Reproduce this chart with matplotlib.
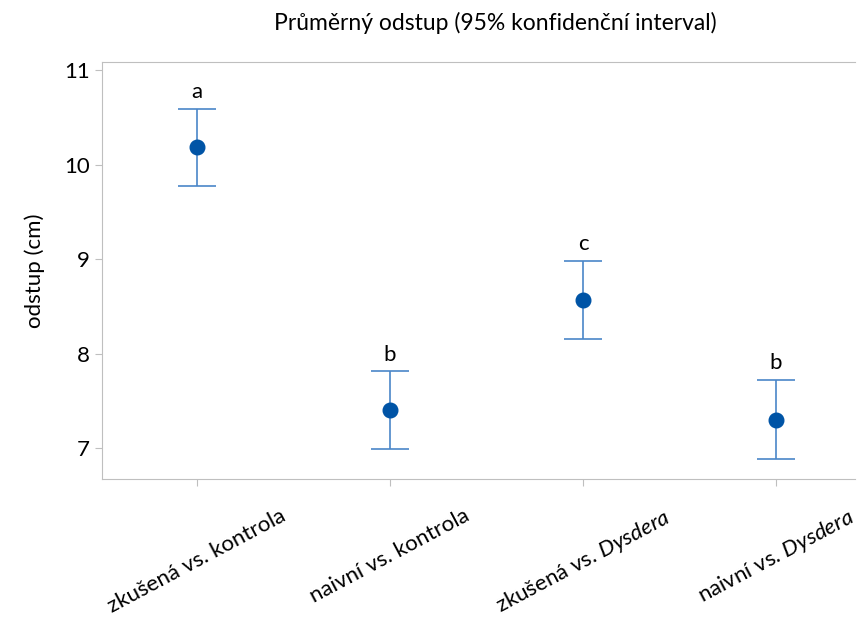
import matplotlib.pyplot as plt

plt.rcParams['font.family'] = ['Lato', 'DejaVu Sans']
plt.rcParams['mathtext.fontset'] = 'custom'
plt.rcParams['mathtext.it'] = 'Lato:italic'
plt.rcParams['mathtext.rm'] = 'Lato'

# data
groups = ['zkušená vs. kontrola', 'naivní vs. kontrola',
          'zkušená vs. $\\it{Dysdera}$', 'naivní vs. $\\it{Dysdera}$']
means = [10.19, 7.40, 8.57, 7.30]
upper = [10.59, 7.81, 8.98, 7.72]
lower = [9.77, 6.99, 8.15, 6.88]
letters = ['a', 'b', 'c', 'b']

x = list(range(len(groups)))
err_lo = [m - l for m, l in zip(means, lower)]
err_hi = [u - m for m, u in zip(means, upper)]

fig = plt.figure(figsize=(8.57, 6.28), dpi=100)
ax = fig.add_axes([0.119, 0.237, 0.879, 0.664])

ax.errorbar(x, means, yerr=[err_lo, err_hi], fmt='none', ecolor='#4a86c8',
            elinewidth=1.2, capsize=13.5, capthick=1.2, zorder=2)
ax.plot(x, means, 'o', color='#0054a6', markersize=10.5, zorder=3)

for xi, u, t in zip(x, upper, letters):
    ax.text(xi, u + 0.07, t, ha='center', va='bottom', fontsize=16)

ax.set_xlim(-0.49, 3.41)
ax.set_ylim(6.67, 11.085)
ax.set_yticks([7, 8, 9, 10, 11])
ax.set_xticks(x)
ax.set_xticklabels(groups, rotation=28, ha='center', fontsize=16)
ax.tick_params(axis='y', labelsize=16, length=5, color='#bfbfbf')
ax.tick_params(axis='x', length=5, color='#bfbfbf', pad=14)
for s in ax.spines.values():
    s.set_color('#bfbfbf')
ax.spines['right'].set_visible(False)
ax.set_ylabel('odstup (cm)', fontsize=16, labelpad=14)

fig.text(0.578, 0.963, 'Průměrný odstup (95% konfidenční interval)',
         ha='center', va='center', fontsize=16.5)

fig.savefig('out.png', dpi=100)
